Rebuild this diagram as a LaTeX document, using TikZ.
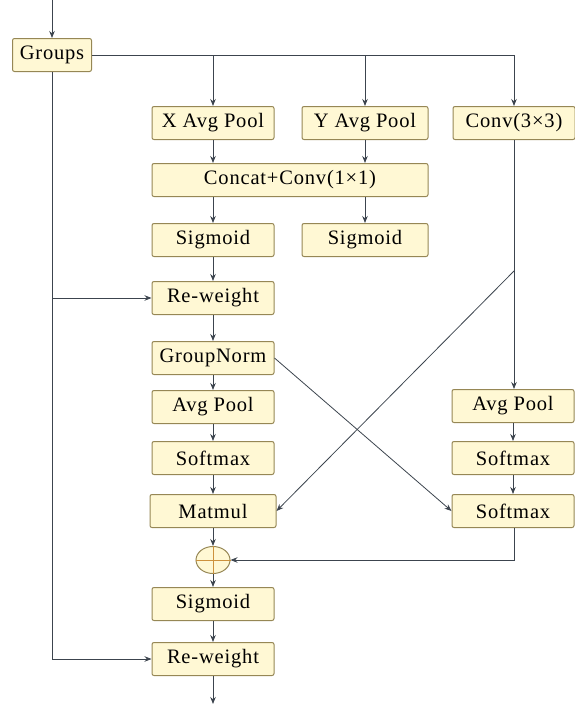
\documentclass[tikz,border=0pt]{standalone}
\usepackage{fontspec}
\setmainfont[LetterSpace=4]{Liberation Serif}
\usepackage{tikz}
\usetikzlibrary{
arrows.meta,
positioning,
shapes.geometric
}
\definecolor{blkfill}{RGB}{255,248,212}
\definecolor{blkedge}{RGB}{150,135,85}
\definecolor{wiregray}{RGB}{60,68,78}
\definecolor{crossorange}{RGB}{205,145,60}

\tikzset{
  blk/.style={draw=blkedge, fill=blkfill, line width=1pt, rounded corners=2pt,
    minimum width=122pt, minimum height=33pt, inner sep=0pt,
    font=\fontsize{20.5}{22}\selectfont},
  wire/.style={wiregray, line width=0.8pt},
  conn/.style={wire, -{Stealth[length=7pt,width=5.5pt]}}
}

\begin{document}
\begin{tikzpicture}[x=1pt, y=-1pt, >=Stealth]
\useasboundingbox (0,0) rectangle (575,704);

% Blocks
\node[blk, minimum width=79pt] (groups) at (52,55) {Groups};
\node[blk] (xpool) at (213,123) {X Avg Pool};
\node[blk, minimum width=126pt] (ypool) at (365,123) {Y Avg Pool};
\node[blk] (conv) at (514,123) {Conv(3×3)};
\node[blk, minimum width=276pt] (concat) at (290,180) {Concat+Conv(1×1)};
\node[blk] (sigx) at (213,240) {Sigmoid};
\node[blk, minimum width=126pt] (sigy) at (365,240) {Sigmoid};
\node[blk] (rwa) at (213,298) {Re-weight};
\node[blk] (gnorm) at (213,358) {GroupNorm};
\node[blk] (lpool) at (213,407) {Avg Pool};
\node[blk] (lsoft) at (213,458) {Softmax};
\node[blk, minimum width=126pt] (matmul) at (213,511) {Matmul};
\node[blk] (rpool) at (513,406) {Avg Pool};
\node[blk] (rsofta) at (513,458) {Softmax};
\node[blk] (rsoftb) at (513,511) {Softmax};
\node[ellipse, draw=blkedge, fill=blkfill, line width=1pt, minimum width=34pt,
  minimum height=27pt, inner sep=0pt] (plus) at (213,560) {};
\draw[crossorange, line width=1pt] (plus.north) -- (plus.south) (plus.west) -- (plus.east);
\node[blk] (sigout) at (213,604) {Sigmoid};
\node[blk] (rwb) at (213,659) {Re-weight};

\coordinate (in) at (52,0);
\coordinate (out) at (213,704);
\coordinate (split) at (514,271);

% Top fan-out
\draw[conn] (in) -- (groups.north);
\draw[wire] (groups.east) -- (conv.north |- groups.east);
\draw[conn] (xpool.north |- groups.east) -- (xpool.north);
\draw[conn] (ypool.north |- groups.east) -- (ypool.north);
\draw[conn] (conv.north |- groups.east) -- (conv.north);

% Skip lines from Groups
\draw[wire] (groups.south) -- (groups.south |- rwb.west);
\draw[conn] (groups.south |- rwa.west) -- (rwa.west);
\draw[conn] (groups.south |- rwb.west) -- (rwb.west);

% Coordinate attention branch
\draw[conn] (xpool.south) -- (xpool.south |- concat.north);
\draw[conn] (ypool.south) -- (ypool.south |- concat.north);
\draw[conn] (sigx.north |- concat.south) -- (sigx.north);
\draw[conn] (sigy.north |- concat.south) -- (sigy.north);
\draw[conn] (sigx) -- (rwa);
\draw[conn] (rwa) -- (gnorm);
\draw[conn] (gnorm) -- (lpool);
\draw[conn] (lpool) -- (lsoft);
\draw[conn] (lsoft) -- (matmul);

% 3x3 branch
\draw[conn] (conv.south -| split) -- (rpool.north -| split);
\draw[conn] (rpool) -- (rsofta);
\draw[conn] (rsofta) -- (rsoftb);

% Cross
\draw[conn] (split) -- (matmul.east);
\draw[conn] (gnorm.east) -- (rsoftb.west);

% Merge
\draw[conn] (matmul.south) -- (plus.north);
\draw[conn] (rsoftb.south -| split) |- (plus.east);
\draw[conn] (plus.south) -- (sigout.north);
\draw[conn] (sigout) -- (rwb);
\draw[conn] (rwb.south) -- (out);

\end{tikzpicture}
\end{document}
